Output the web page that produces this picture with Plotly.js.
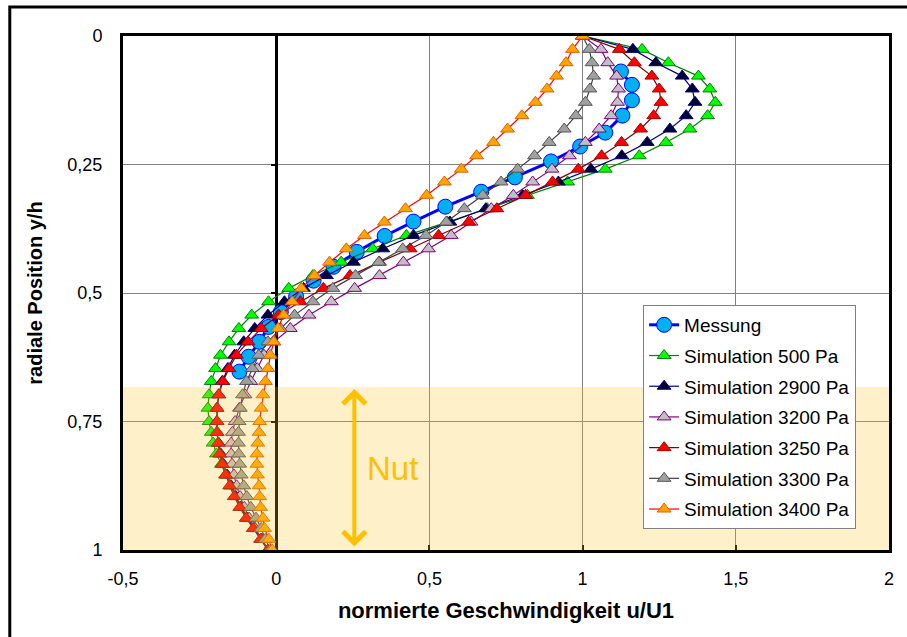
<!DOCTYPE html>
<html><head><meta charset="utf-8">
<script src="https://cdn.plot.ly/plotly-3.0.1.min.js"></script>
<style>html,body{margin:0;padding:0;background:#fff}#chart{width:907px;height:637px}</style>
</head><body><div id="chart"></div>
<script>
// ---- data ----
const seriesNames = ['Messung','Simulation 500 Pa','Simulation 2900 Pa','Simulation 3200 Pa','Simulation 3250 Pa','Simulation 3300 Pa','Simulation 3400 Pa'];

const messY = [0.069,0.095,0.125,0.155,0.188,0.215,0.244,0.275,0.303,0.332,0.361,0.389,0.420,0.449,0.476,0.507,0.537,0.566,0.595,0.624,0.653];
const messX = [1.125,1.161,1.161,1.130,1.074,0.992,0.897,0.779,0.669,0.552,0.448,0.354,0.263,0.187,0.122,0.065,0.015,-0.025,-0.055,-0.090,-0.120];

const simY = [0,0.026,0.052,0.078,0.103,0.129,0.155,0.181,0.207,0.233,0.259,0.284,0.310,0.336,0.362,0.388,0.414,0.440,0.466,0.491,0.517,0.543,0.569,0.595,0.621,0.647,0.672,0.698,0.724,0.750,0.771,0.792,0.813,0.833,0.854,0.875,0.896,0.917,0.938,0.958,0.979,1.0];

const sim500 = [1.0,1.194,1.280,1.378,1.415,1.433,1.408,1.350,1.272,1.185,1.074,0.951,0.820,0.689,0.559,0.425,0.315,0.212,0.120,0.041,-0.025,-0.080,-0.122,-0.154,-0.182,-0.198,-0.212,-0.219,-0.223,-0.219,-0.212,-0.206,-0.195,-0.179,-0.165,-0.149,-0.132,-0.113,-0.092,-0.069,-0.046,-0.027];
const sim2900 = [1.0,1.164,1.239,1.325,1.358,1.367,1.338,1.285,1.211,1.128,1.027,0.921,0.804,0.684,0.567,0.448,0.348,0.252,0.164,0.089,0.027,-0.027,-0.070,-0.106,-0.136,-0.158,-0.176,-0.188,-0.193,-0.194,-0.193,-0.188,-0.181,-0.172,-0.160,-0.147,-0.132,-0.116,-0.095,-0.072,-0.049,-0.027];
const sim3200 = [1.0,1.060,1.082,1.111,1.117,1.114,1.093,1.054,1.009,0.957,0.900,0.837,0.774,0.702,0.636,0.571,0.497,0.415,0.337,0.256,0.180,0.107,0.046,-0.008,-0.040,-0.062,-0.083,-0.102,-0.120,-0.134,-0.143,-0.147,-0.147,-0.144,-0.138,-0.129,-0.118,-0.104,-0.088,-0.069,-0.047,-0.027];
const sim3250 = [1.0,1.120,1.169,1.226,1.250,1.256,1.232,1.189,1.127,1.062,0.986,0.902,0.814,0.720,0.628,0.530,0.437,0.337,0.241,0.154,0.079,0.008,-0.049,-0.092,-0.130,-0.154,-0.174,-0.187,-0.193,-0.193,-0.193,-0.190,-0.185,-0.176,-0.165,-0.152,-0.137,-0.119,-0.098,-0.075,-0.051,-0.027];
const sim3300 = [1.0,1.022,1.031,1.036,1.024,1.009,0.978,0.940,0.891,0.843,0.788,0.734,0.674,0.614,0.555,0.489,0.413,0.335,0.259,0.185,0.120,0.060,0.014,-0.027,-0.057,-0.078,-0.097,-0.110,-0.117,-0.121,-0.123,-0.123,-0.122,-0.119,-0.114,-0.106,-0.096,-0.083,-0.066,-0.049,-0.035,-0.019];
const sim3400 = [1.0,0.967,0.946,0.915,0.884,0.846,0.802,0.755,0.709,0.654,0.604,0.549,0.491,0.422,0.353,0.288,0.229,0.174,0.125,0.082,0.052,0.024,0.006,-0.008,-0.019,-0.027,-0.035,-0.043,-0.049,-0.054,-0.056,-0.060,-0.063,-0.063,-0.061,-0.056,-0.054,-0.051,-0.043,-0.038,-0.024,-0.013];

const xTickVals = [-0.5,0,0.5,1,1.5,2];
const xTickText = ['-0,5','0','0,5','1','1,5','2'];
const yTickVals = [0,0.25,0.5,0.75,1];
const yTickText = ['0','0,25','0,5','0,75','1'];
const nutTop = 0.683;   // start of the groove (Nut) region

// ---- styles ----
const FONT = 'Liberation Sans, Arial, sans-serif';
function sim(name, x, lineCol, fill, edge){
  return {type:'scatter', mode:'lines+markers', name:name, x:x, y:simY, legendgroup:name,
    line:{color:lineCol, width:1.2},
    marker:{symbol:'triangle-up', size:12, color:fill, line:{color:edge, width:1}}};
}
const traces = [
  {type:'scatter', mode:'lines+markers', name:seriesNames[0], x:messX, y:messY, legendgroup:'m',
   line:{color:'#0000FF', width:3},
   marker:{symbol:'circle', size:15, color:'#00B0F0', line:{color:'#0000FF', width:1}}},
  sim(seriesNames[1], sim500, '#008000', '#00FF00', '#008000'),
  sim(seriesNames[2], sim2900, '#000080', '#000033', '#000080'),
  sim(seriesNames[3], sim3200, '#800080', '#C0C0C0', '#800080'),
  sim(seriesNames[4], sim3250, '#800000', '#FF0000', '#A00000'),
  sim(seriesNames[5], sim3300, '#404040', '#A0A0A0', '#555555'),
  sim(seriesNames[6], sim3400, '#FF0000', '#FFA500', '#E06000'),
  // empty trace that only carries the vertical axis at x = 0 (tick marks)
  {type:'scatter', mode:'markers', x:[], y:[], yaxis:'y2', showlegend:false, hoverinfo:'skip'}
];

const layout = {
  width:907, height:637,
  margin:{l:123, r:18, t:36, b:87, pad:0},
  paper_bgcolor:'#FFFFFF', plot_bgcolor:'#FFFFFF',
  separators:', ',
  font:{family:FONT, color:'#000', size:18},
  showlegend:true,
  legend:{x:0.679, y:0.4767, xanchor:'left', yanchor:'top', bgcolor:'#FFFFFF',
          bordercolor:'#808080', borderwidth:1, font:{family:FONT, size:19, color:'#000'},
          tracegroupgap:3, traceorder:'grouped'},
  xaxis:{range:[-0.5,2], tickmode:'array', tickvals:xTickVals, ticktext:xTickText,
         ticks:'inside', ticklen:5, tickwidth:2, tickcolor:'#000',
         showgrid:true, gridcolor:'#808080', gridwidth:1,
         zeroline:true, zerolinecolor:'#000', zerolinewidth:3,
         showline:true, linecolor:'#000', linewidth:3, mirror:true, layer:'below traces',
         tickfont:{family:FONT, size:18, color:'#000'}, ticklabelstandoff:10,
         title:{text:'<b>normierte Geschwindigkeit u/U1</b>', font:{family:FONT, size:22, color:'#000'}, standoff:16}},
  yaxis:{range:[1,0], tickmode:'array', tickvals:yTickVals, ticktext:yTickText,
         ticks:'', showgrid:true, gridcolor:'#808080', gridwidth:1, zeroline:false,
         showline:true, linecolor:'#000', linewidth:3, mirror:true, layer:'below traces',
         tickfont:{family:FONT, size:18, color:'#000'}, ticklabelstandoff:14,
         title:{text:'<b>radiale Position y/h</b>', font:{family:FONT, size:20, color:'#000'}, standoff:20}},
  yaxis2:{overlaying:'y', anchor:'free', position:0.2, side:'left', range:[1,0],
          tickmode:'array', tickvals:[0.25,0.5,0.75], showticklabels:false,
          ticks:'outside', ticklen:5, tickwidth:2, tickcolor:'#000',
          showline:false, showgrid:false, zeroline:false, layer:'below traces'},
  shapes:[
    {type:'rect', xref:'x', yref:'y', x0:-0.5, x1:2, y0:nutTop, y1:1,
     fillcolor:'rgba(250,200,40,0.25)', line:{width:0}, layer:'above'},
    {type:'rect', xref:'paper', yref:'paper', x0:-0.1478, x1:1.03, y0:-0.19, y1:1.0565,
     fillcolor:'rgba(0,0,0,0)', line:{color:'#000', width:3}, layer:'above'}
  ],
  annotations:[
    {xref:'x', yref:'y', axref:'x', ayref:'y', x:0.255, y:nutTop+0.004, ax:0.255, ay:0.996,
     text:'', showarrow:true, arrowside:'end+start', arrowhead:4, startarrowhead:4,
     arrowsize:1.1, startarrowsize:1.1, arrowwidth:4, arrowcolor:'#FFC000', standoff:0, startstandoff:0},
    {xref:'x', yref:'y', x:0.29, y:0.842, xanchor:'left', yanchor:'middle', showarrow:false,
     text:'Nut', font:{family:FONT, size:33, color:'#FFC000'}}
  ]
};

Plotly.newPlot('chart', traces, layout, {displayModeBar:false, staticPlot:true});
</script></body></html>
